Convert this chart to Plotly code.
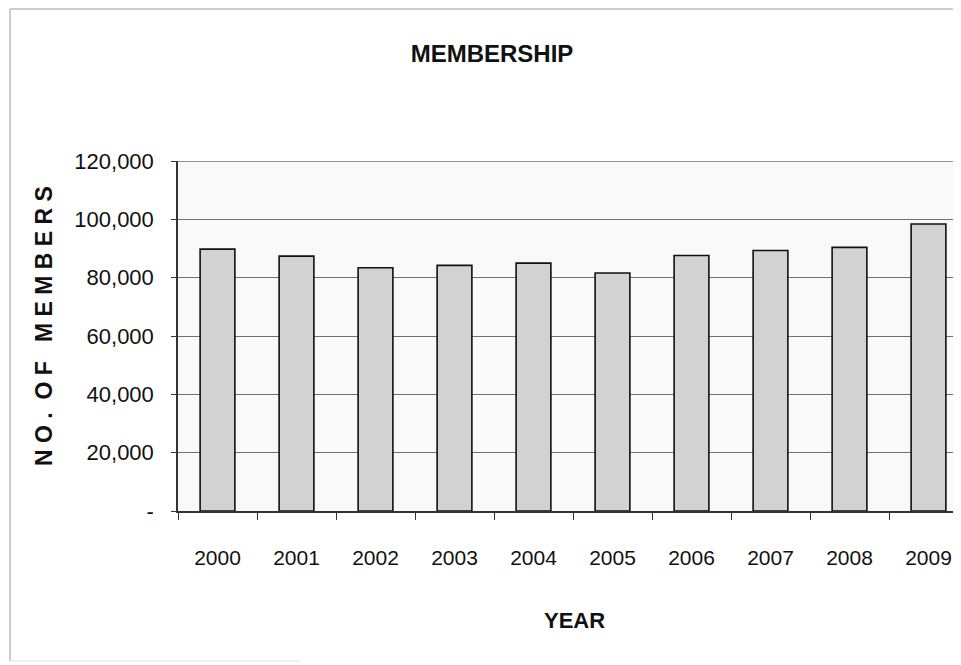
import plotly.graph_objects as go

years = ["2000", "2001", "2002", "2003", "2004", "2005", "2006", "2007", "2008", "2009"]
members = [89800, 87400, 83400, 84200, 85000, 81600, 87600, 89300, 90400, 98400]
y_tickvals = [0, 20000, 40000, 60000, 80000, 100000, 120000]
y_ticktext = ["-", "20,000", "40,000", "60,000", "80,000", "100,000", "120,000"]

OFF = 8  # page body margin
W, H = 961 - OFF, 665 - OFF
L = 178 - OFF
T = 161 - OFF
R = 0
B = H - (511 - OFF)
PW = W - L - R
PH = H - T - B
CAT = 79.0  # pixel width per category

def px(x):  # page x -> paper x
    return (x - OFF - L) / PW

def py(y):  # page y -> paper y
    return (H - B - (y - OFF)) / PH

FONT = "Liberation Sans, Arial, sans-serif"

fig = go.Figure(go.Bar(
    x=years, y=members,
    marker=dict(color="#d2d2d2", line=dict(color="#111111", width=1.6)),
))

fig.update_layout(
    width=W, height=H,
    margin=dict(l=L, r=R, t=T, b=B, pad=0),
    paper_bgcolor="white",
    plot_bgcolor="#f9f9f9",
    bargap=0.56,
    showlegend=False,
    title=dict(text="<b>MEMBERSHIP</b>", x=(492 - OFF) / W, xref="container", xanchor="center",
               y=1 - (54 - OFF) / H, yref="container", yanchor="middle",
               font=dict(family=FONT, size=24, color="#111111")),
    xaxis=dict(
        type="category", range=[-0.5, -0.5 + PW / CAT],
        showline=True, linecolor="#333333", linewidth=1.5,
        ticks="outside", tickson="boundaries", ticklen=7, tickcolor="#333333", tickwidth=1,
        tickfont=dict(family=FONT, size=21, color="#111111"),
        ticklabelstandoff=27,
        showgrid=False,
    ),
    yaxis=dict(
        range=[0, 120000], tickvals=y_tickvals, ticktext=y_ticktext,
        showline=True, linecolor="#333333", linewidth=1.5,
        ticks="outside", ticklen=5, tickcolor="#333333", tickwidth=1,
        tickfont=dict(family=FONT, size=22, color="#111111"),
        ticklabelstandoff=13,
        showgrid=True, gridcolor="#707070", gridwidth=1.4,
        zeroline=False,
    ),
    annotations=[
        dict(text="<b>YEAR</b>", x=px(574), y=py(620), xref="paper", yref="paper",
             showarrow=False, xanchor="center", yanchor="middle",
             font=dict(family=FONT, size=22, color="#111111")),
        dict(text="<b>N O .  O F   M E M B E R S</b>", x=px(44), y=py(326), xref="paper", yref="paper",
             showarrow=False, xanchor="center", yanchor="middle", textangle=-90,
             font=dict(family=FONT, size=23, color="#111111")),
    ],
    shapes=[
        dict(type="line", xref="paper", yref="y", x0=0, x1=1, y0=120000, y1=120000,
             line=dict(color="#707070", width=1.4), layer="below"),
        dict(type="line", xref="paper", yref="paper", x0=px(10), x1=px(10), y0=py(9), y1=py(661),
             line=dict(color="#bdbdbd", width=1.5)),
        dict(type="line", xref="paper", yref="paper", x0=px(10), x1=1.0, y0=py(9), y1=py(9),
             line=dict(color="#bdbdbd", width=1.5)),
        dict(type="line", xref="paper", yref="paper", x0=px(10), x1=px(300), y0=py(661), y1=py(661),
             line=dict(color="#e0e0e0", width=1)),
    ],
)

fig.write_html("out.html")
